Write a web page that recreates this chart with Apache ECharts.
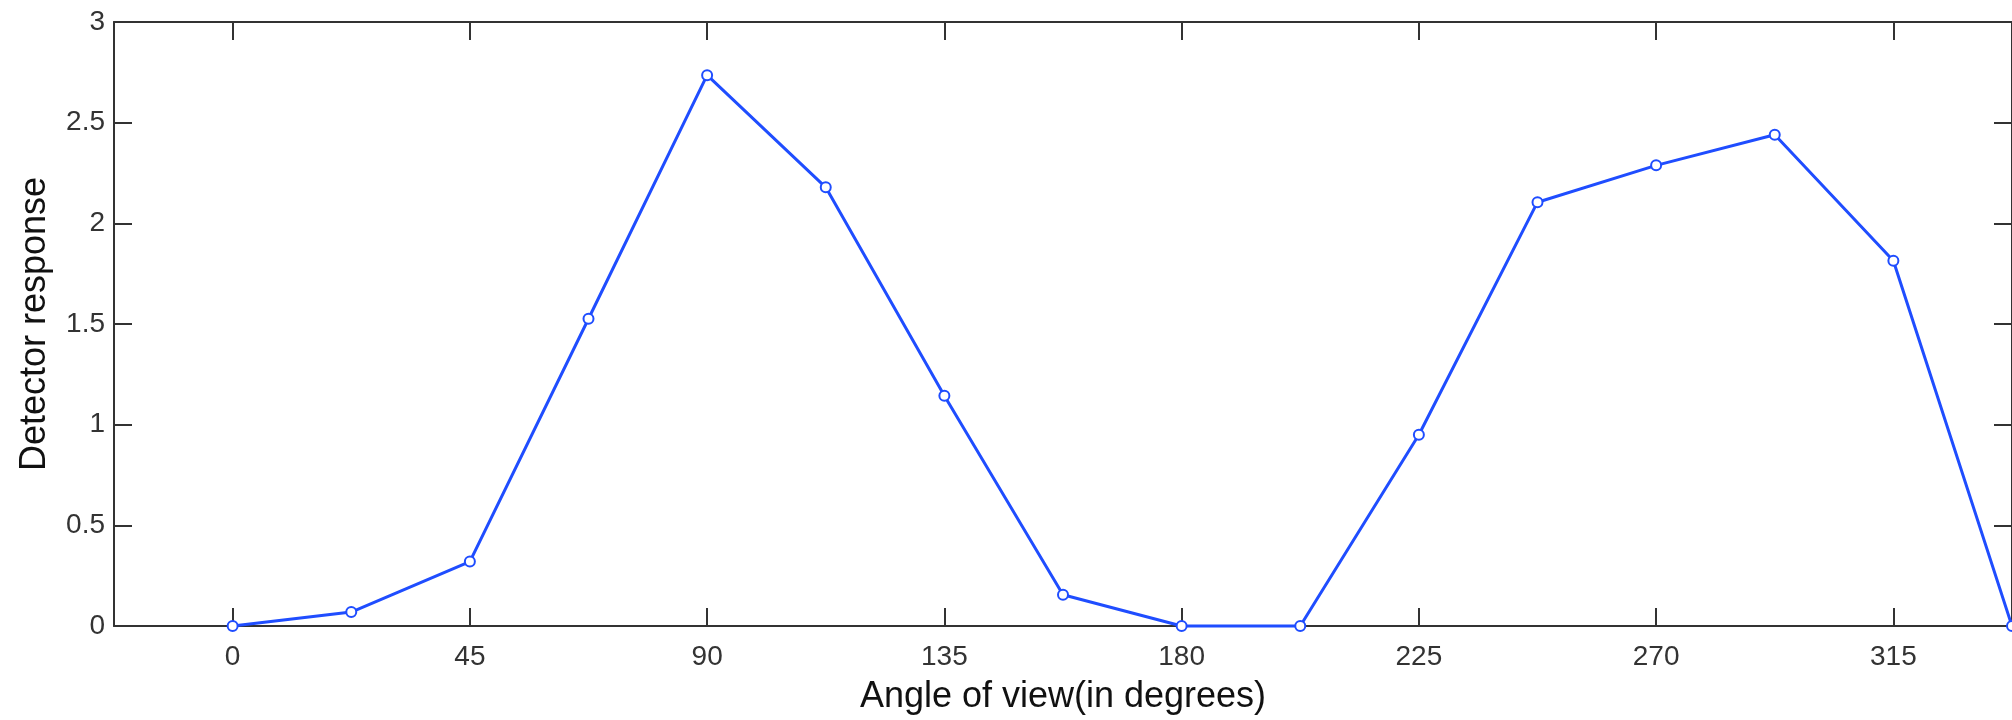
<!DOCTYPE html>
<html>
<head>
<meta charset="utf-8">
<script src="https://cdn.jsdelivr.net/npm/echarts@6/dist/echarts.min.js"></script>
<style>
html,body{margin:0;padding:0;background:#fff;}
#chart{width:2012px;height:720px;}
</style>
</head>
<body>
<div id="chart"></div>
<script>
// Data
var angles = [0, 22.5, 45, 67.5, 90, 112.5, 135, 157.5, 180, 202.5, 225, 247.5, 270, 292.5, 315, 337.5];
var response = [0, 0.069, 0.32, 1.526, 2.736, 2.179, 1.144, 0.155, 0, 0, 0.95, 2.105, 2.288, 2.44, 1.814, 0];
var xTicks = [0, 45, 90, 135, 180, 225, 270, 315];
var yTicks = [0, 0.5, 1, 1.5, 2, 2.5, 3];
var xTitle = 'Angle of view(in degrees)';
var yTitle = 'Detector response';

var FONT = '"Liberation Sans", Arial, sans-serif';
var axisColor = '#333333';
var blue = '#1f4dff';

var points = angles.map(function (a, i) { return [a, response[i]]; });

var chart = echarts.init(document.getElementById('chart'), null, {renderer: 'canvas'});
var common = {
  axisLine: {show: true, onZero: false, lineStyle: {color: axisColor, width: 2}},
  splitLine: {show: false},
  nameMoveOverlap: false
};
chart.setOption({
  animation: false,
  backgroundColor: '#ffffff',
  grid: {left: 114, top: 22, width: 1901, height: 607, containLabel: false},
  xAxis: [
    Object.assign({}, common, {
      type: 'value', position: 'bottom', min: -22.5, max: 337.5,
      axisTick: {inside: true, length: 18, lineStyle: {color: axisColor, width: 2}, customValues: xTicks},
      axisLabel: {customValues: xTicks, margin: 17, fontFamily: FONT, fontSize: 28, color: '#333'},
      name: xTitle, nameLocation: 'middle', nameGap: 53,
      nameTextStyle: {fontFamily: FONT, fontSize: 36, color: '#111'}
    }),
    Object.assign({}, common, {
      type: 'value', position: 'top', min: -22.5, max: 337.5,
      axisTick: {inside: true, length: 18, lineStyle: {color: axisColor, width: 2}, customValues: xTicks},
      axisLabel: {show: false, customValues: xTicks}
    })
  ],
  yAxis: [
    Object.assign({}, common, {
      type: 'value', position: 'left', min: 0, max: 3, interval: 0.5,
      axisTick: {inside: true, length: 18, lineStyle: {color: axisColor, width: 2}},
      axisLabel: {margin: 9, fontFamily: FONT, fontSize: 28, color: '#333'},
      name: yTitle, nameLocation: 'middle', nameGap: 61,
      nameTextStyle: {fontFamily: FONT, fontSize: 36, color: '#111'}
    }),
    Object.assign({}, common, {
      type: 'value', position: 'right', min: 0, max: 3, interval: 0.5,
      axisTick: {inside: true, length: 18, lineStyle: {color: axisColor, width: 2}},
      axisLabel: {show: false}
    })
  ],
  series: [{
    type: 'line',
    xAxisIndex: 0, yAxisIndex: 0,
    data: points,
    clip: false,
    symbol: 'emptyCircle',
    symbolSize: 10,
    lineStyle: {color: blue, width: 3},
    itemStyle: {color: blue, borderColor: blue, borderWidth: 2.5}
  }]
});
</script>
</body>
</html>
